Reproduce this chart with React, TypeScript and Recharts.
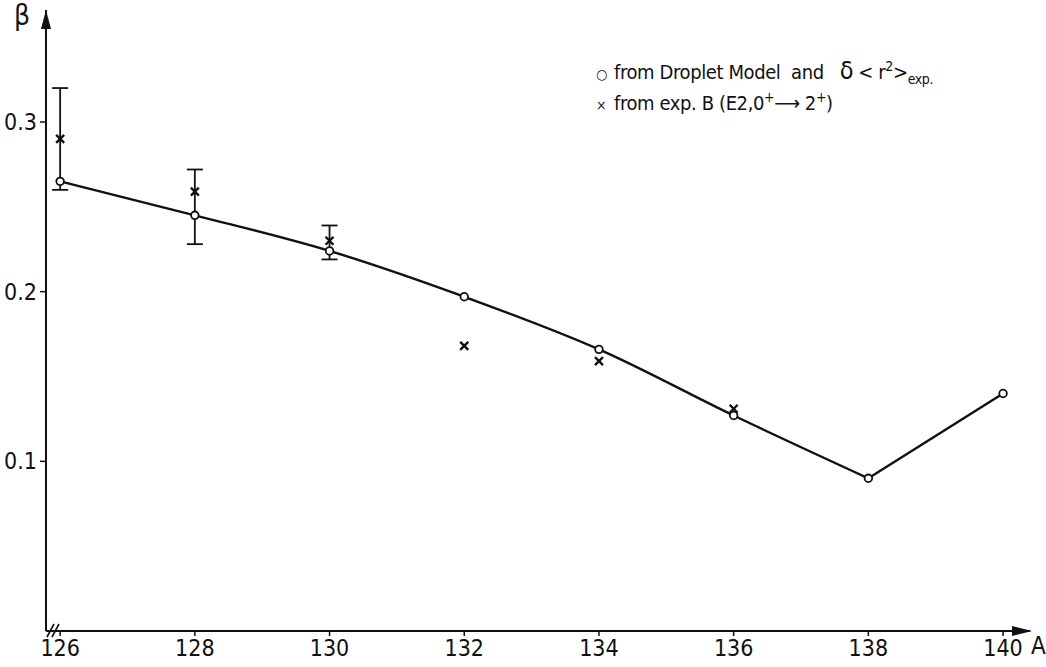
import {
  ComposedChart,
  ErrorBar,
  Line,
  ReferenceDot,
  Scatter,
  XAxis,
  YAxis,
} from 'recharts'

// mass numbers A and deformation beta
const massNumbers = [126, 128, 130, 132, 134, 136, 138, 140]
const dropletBeta = [0.265, 0.245, 0.224, 0.197, 0.166, 0.127, 0.09, 0.14]

const expMasses = [126, 128, 130, 132, 134, 136]
const expBeta = [0.29, 0.259, 0.23, 0.168, 0.159, 0.131]

// error bars (absolute low / high) only for the first three points
const errMasses = [126, 128, 130]
const errLow = [0.26, 0.228, 0.219]
const errHigh = [0.32, 0.272, 0.239]

const xTicks = [126, 128, 130, 132, 134, 136, 138, 140]
const yTicks = [0.1, 0.2, 0.3]

const X_MIN = 125.79
const X_MAX = 140.4
const Y_MAX = 0.366

const FONT = "'Liberation Sans Narrow', 'DejaVu Sans Condensed', sans-serif"
const INK = '#111'

const droplet = massNumbers.map((a, i) => ({ a, beta: dropletBeta[i] }))
// smooth curve up to 138, then a straight segment to 140
const curvePart = droplet.slice(0, 7)
const tailPart = droplet.slice(6)
const expData = expMasses.map((a, i) => ({ a, beta: expBeta[i] }))
const errData = errMasses.map((a, i) => {
  const beta = expBeta[expMasses.indexOf(a)]
  return { a, beta, err: [beta - errLow[i], errHigh[i] - beta] }
})

const OpenCircle = (p: any) => (
  <circle cx={p.cx} cy={p.cy} r={3.8} fill="#fff" stroke={INK} strokeWidth={1.8} />
)

const Cross = (p: any) => (
  <g stroke={INK} strokeWidth={2.4}>
    <line x1={p.cx - 4} y1={p.cy - 4} x2={p.cx + 4} y2={p.cy + 4} />
    <line x1={p.cx - 4} y1={p.cy + 4} x2={p.cx + 4} y2={p.cy - 4} />
  </g>
)

const Nothing = () => <g />

const ArrowRight = (p: any) => (
  <path d={`M${p.cx + 2},${p.cy} L${p.cx - 18},${p.cy - 5} L${p.cx - 18},${p.cy + 5} Z`} fill={INK} />
)

const ArrowUp = (p: any) => (
  <path d={`M${p.cx},${p.cy} L${p.cx - 5},${p.cy + 19} L${p.cx + 5},${p.cy + 19} Z`} fill={INK} />
)

const AxisBreak = (p: any) => (
  <g stroke={INK} strokeWidth={1.6}>
    <line x1={p.cx + 1} y1={p.cy + 6} x2={p.cx + 8} y2={p.cy - 7} />
    <line x1={p.cx + 6} y1={p.cy + 6} x2={p.cx + 13} y2={p.cy - 7} />
  </g>
)

const up = (top: number, size: number) => ({
  position: 'relative' as const,
  top,
  fontSize: size,
  lineHeight: 0,
})

export default function App() {
  return (
    <div
      style={{
        position: 'absolute',
        left: 0,
        top: 0,
        width: 1046,
        height: 667,
        background: '#fff',
        fontFamily: FONT,
        color: INK,
      }}
    >
      <ComposedChart
        width={1046}
        height={667}
        margin={{ top: 10, right: 16, left: 0, bottom: 0 }}
      >
        <XAxis
          type="number"
          dataKey="a"
          domain={[X_MIN, X_MAX]}
          ticks={xTicks}
          allowDataOverflow
          height={36}
          tickSize={5}
          tickMargin={4}
          axisLine={{ stroke: INK, strokeWidth: 2 }}
          tickLine={{ stroke: INK, strokeWidth: 1.5 }}
          tick={{ fill: INK, fontSize: 23, fontFamily: FONT }}
        />
        <YAxis
          type="number"
          dataKey="beta"
          domain={[0, Y_MAX]}
          ticks={yTicks}
          allowDataOverflow
          width={46}
          tickSize={6}
          tickMargin={3}
          tickFormatter={(v: number) => v.toFixed(1)}
          axisLine={{ stroke: INK, strokeWidth: 2 }}
          tickLine={{ stroke: INK, strokeWidth: 1.5 }}
          tick={{ fill: INK, fontSize: 23, fontFamily: FONT }}
        />
        <Line
          data={curvePart}
          dataKey="beta"
          type="monotone"
          stroke={INK}
          strokeWidth={2.4}
          dot={false}
          activeDot={false}
          isAnimationActive={false}
        />
        <Line
          data={tailPart}
          dataKey="beta"
          type="linear"
          stroke={INK}
          strokeWidth={2.4}
          dot={false}
          activeDot={false}
          isAnimationActive={false}
        />
        <Scatter data={errData} dataKey="beta" shape={Nothing} isAnimationActive={false}>
          <ErrorBar
            dataKey="err"
            direction="y"
            width={8}
            stroke={INK}
            strokeWidth={1.8}
            isAnimationActive={false}
          />
        </Scatter>
        <Scatter data={expData} dataKey="beta" shape={Cross} isAnimationActive={false} />
        <Scatter data={droplet} dataKey="beta" shape={OpenCircle} isAnimationActive={false} />
        <ReferenceDot x={X_MAX} y={0} r={0} shape={ArrowRight} />
        <ReferenceDot x={X_MIN} y={Y_MAX} r={0} shape={ArrowUp} />
        <ReferenceDot x={X_MIN} y={0} r={0} shape={AxisBreak} />
      </ComposedChart>

      <div style={{ position: 'absolute', left: 14, top: 0, fontSize: 28, lineHeight: '32px' }}>β</div>
      <div style={{ position: 'absolute', left: 1031, top: 632, fontSize: 24, lineHeight: '28px' }}>A</div>

      <div
        style={{
          position: 'absolute',
          left: 596,
          top: 58,
          fontSize: 20,
          lineHeight: '29px',
          letterSpacing: -0.4,
          whiteSpace: 'nowrap',
        }}
      >
        <div>
          <span style={{ display: 'inline-block', width: 18, fontSize: 14 }}>○</span>
          from Droplet Model&nbsp; and&nbsp;&nbsp;&nbsp;
          <span style={{ fontSize: 25, lineHeight: 0 }}>δ</span>
          {' < '}r<span style={up(-8, 14)}>2</span>
          {'>'}
          <span style={up(5, 14)}>exp.</span>
        </div>
        <div>
          <span style={{ display: 'inline-block', width: 18, fontSize: 14 }}>×</span>
          from exp. B (E2,0<span style={up(-8, 14)}>+</span>⟶ 2<span style={up(-8, 14)}>+</span>)
        </div>
      </div>
    </div>
  )
}
